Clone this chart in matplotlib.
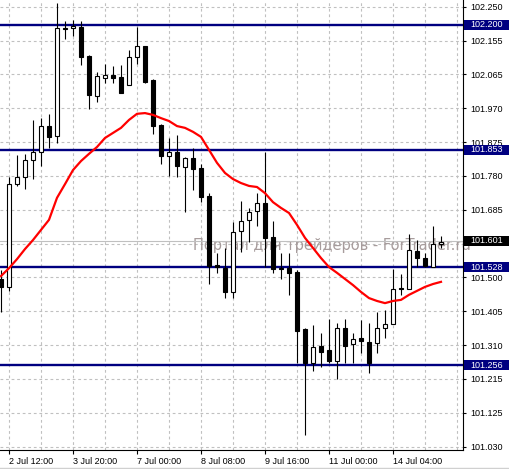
import numpy as np
import matplotlib
matplotlib.use("Agg")
import matplotlib.pyplot as plt
from matplotlib.patches import Rectangle
from matplotlib.lines import Line2D
from matplotlib.transforms import blended_transform_factory

# H4 candles, oldest -> newest
opens = [101.495, 101.473, 101.758, 101.778, 101.825, 101.847, 101.919, 101.892,
         102.191, 102.191, 102.194, 102.113, 102.002, 102.052, 102.061, 102.055,
         102.033, 102.111, 102.141, 102.047, 101.922, 101.836, 101.847, 101.806,
         101.830, 101.803, 101.725, 101.534, 101.525, 101.459, 101.628, 101.659,
         101.683, 101.706, 101.611, 101.525, 101.525, 101.514, 101.356, 101.262,
         101.309, 101.298, 101.268, 101.359, 101.315, 101.331, 101.320, 101.318,
         101.359, 101.370, 101.470, 101.467, 101.573, 101.553, 101.528, 101.592]
highs = [101.520, 101.778, 101.839, 101.842, 101.936, 101.941, 101.953, 102.260,
         102.210, 102.213, 102.210, 102.116, 102.069, 102.091, 102.086, 102.088,
         102.130, 102.194, 102.141, 102.050, 101.925, 101.886, 101.894, 101.833,
         101.858, 101.814, 101.733, 101.567, 101.581, 101.653, 101.711, 101.692,
         101.733, 101.847, 101.656, 101.567, 101.567, 101.520, 101.359, 101.367,
         101.345, 101.384, 101.373, 101.384, 101.345, 101.381, 101.373, 101.403,
         101.409, 101.523, 101.509, 101.620, 101.603, 101.567, 101.642, 101.614]
lows = [101.403, 101.462, 101.753, 101.745, 101.772, 101.808, 101.858, 101.872,
        102.160, 102.169, 102.088, 101.966, 101.986, 102.038, 102.038, 102.011,
        102.033, 102.091, 102.038, 101.897, 101.814, 101.781, 101.778, 101.681,
        101.742, 101.708, 101.481, 101.512, 101.442, 101.442, 101.570, 101.598,
        101.642, 101.528, 101.512, 101.495, 101.451, 101.262, 101.062, 101.240,
        101.251, 101.262, 101.218, 101.262, 101.262, 101.290, 101.234, 101.290,
        101.331, 101.370, 101.451, 101.467, 101.528, 101.528, 101.528, 101.581]
closes = [101.473, 101.758, 101.778, 101.825, 101.847, 101.919, 101.889, 102.191,
          102.189, 102.197, 102.111, 102.005, 102.058, 102.061, 102.052, 102.011,
          102.111, 102.141, 102.041, 101.919, 101.836, 101.847, 101.808, 101.830,
          101.800, 101.722, 101.531, 101.528, 101.459, 101.625, 101.656, 101.681,
          101.706, 101.609, 101.523, 101.523, 101.512, 101.351, 101.262, 101.306,
          101.293, 101.268, 101.359, 101.309, 101.329, 101.323, 101.262, 101.359,
          101.370, 101.467, 101.467, 101.575, 101.553, 101.531, 101.592, 101.598]

# moving average (red)
ma = [101.503, 101.525, 101.550, 101.578, 101.603, 101.631, 101.659, 101.720,
      101.758, 101.797, 101.822, 101.842, 101.861, 101.886, 101.900, 101.914,
      101.936, 101.953, 101.955, 101.950, 101.941, 101.933, 101.919, 101.914,
      101.903, 101.889, 101.853, 101.817, 101.789, 101.772, 101.761, 101.753,
      101.750, 101.733, 101.708, 101.692, 101.678, 101.645, 101.609, 101.581,
      101.553, 101.528, 101.512, 101.495, 101.478, 101.459, 101.442, 101.434,
      101.428, 101.434, 101.437, 101.451, 101.462, 101.473, 101.481, 101.487]

levels = [102.200, 101.853, 101.528, 101.256]
bid = 101.601

# the 101.590 grid label is hidden under the bid box in the terminal
ytick_labels = ["101.030", "101.125", "101.215", "101.310", "101.405", "101.500", "",
                "101.685", "101.780", "101.875", "101.970", "102.065", "102.155", "102.250"]
xtick_idx = [1, 9, 17, 25, 33, 41, 49]
xtick_labels = ["2 Jul 12:00", "3 Jul 20:00", "7 Jul 00:00", "8 Jul 08:00",
                "9 Jul 16:00", "11 Jul 00:00", "14 Jul 04:00"]

W, H = 509, 469
fig = plt.figure(figsize=(W / 100, H / 100), dpi=100)
ax = fig.add_axes([0, 19 / H, 463 / W, 1 - 19 / H])
ax.set_axisbelow(True)

x = np.arange(len(opens))
o = np.array(opens); c = np.array(closes)
up = c >= o

# watermark behind candles
ax.text(24, 101.589, "Портал для трейдеров - ForTrader.ru", fontsize=10.5,
        color="#a79c9c", va="center", ha="left", zorder=1, family="DejaVu Sans")

ax.axhline(bid, color="#c0c0c0", lw=0.8, zorder=1.2)
for lv in levels:
    ax.axhline(lv, color="#000080", lw=1.7, zorder=2)

ax.vlines(x, lows, highs, color="black", lw=0.8, zorder=3)
body = np.maximum(np.abs(c - o), 0.0008)
ax.bar(x, body, bottom=np.minimum(o, c), width=0.6,
       color=np.where(up, "white", "black"), edgecolor="black", linewidth=0.8, zorder=4)

ax.plot(x, ma, color="#ff0000", lw=1.6, zorder=5)

ax.set_xlim(-0.125, 57.75)
ax.set_ylim(101.0207, 102.2686)

yt = np.linspace(101.030, 102.250, len(ytick_labels))
ax.set_yticks(yt)
ax.set_yticklabels(ytick_labels)
ax.yaxis.tick_right()
ax.tick_params(axis="y", direction="out", length=2.5, width=0.8, pad=3,
               labelsize=6.5, colors="black")

ax.set_xticks(xtick_idx)
ax.set_xticklabels(xtick_labels, ha="left")
ax.set_xticks(np.arange(1, 58, 4), minor=True)
ax.tick_params(axis="x", which="major", direction="out", length=3, width=0.8, pad=2,
               labelsize=6.5)
ax.tick_params(axis="x", which="minor", length=0)
for lab in ax.get_xticklabels() + ax.get_yticklabels():
    lab.set_family("Liberation Sans")

ax.grid(True, which="both", axis="x", color="#c0c0c0", lw=0.8, ls=(0, (2.5, 2.5)))
ax.grid(True, which="major", axis="y", color="#c0c0c0", lw=0.8, ls=(0, (2.5, 2.5)))

for s in ["top", "left"]:
    ax.spines[s].set_visible(False)
for s in ["right", "bottom"]:
    ax.spines[s].set_linewidth(0.8)

# price boxes on the right scale
trans = blended_transform_factory(fig.transFigure, ax.transData)
bh = 10 * (102.2686 - 101.0207) / 450
for val, bg in [(v, "#000080") for v in levels] + [(bid, "black")]:
    ax.add_patch(Rectangle((464 / W, val - bh / 2), 45 / W, bh, transform=trans,
                           facecolor=bg, edgecolor="none", clip_on=False, zorder=6))
    ax.text(470 / W, val, "%.3f" % val, transform=trans, color="white", fontsize=6.5,
            va="center", ha="left", family="Liberation Sans", zorder=7, clip_on=False)

fig.add_artist(Line2D([0, 1], [0.8 / H, 0.8 / H], color="#d0d0d0", lw=1))

fig.savefig("out.png", dpi=100)
